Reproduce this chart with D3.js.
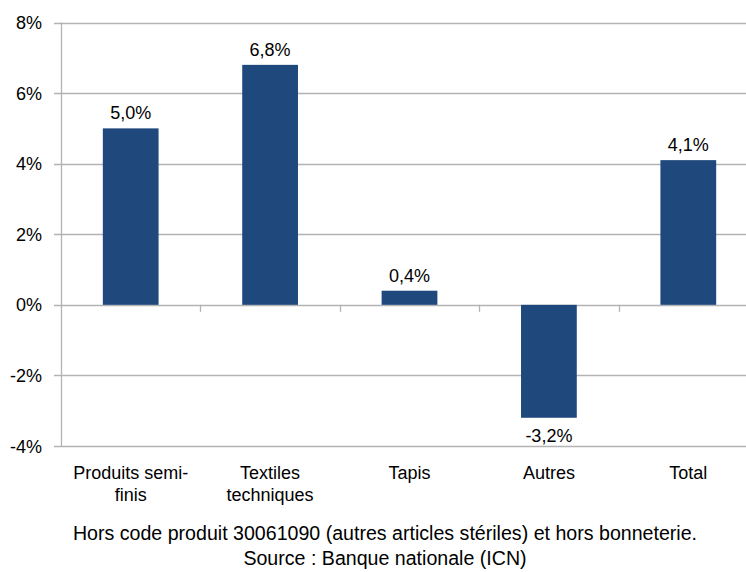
<!DOCTYPE html>
<html><head><meta charset="utf-8">
<script src="https://cdn.jsdelivr.net/npm/d3@7/dist/d3.min.js"></script>
<style>body{margin:0;background:#fff}svg{display:block}text{font-family:"Liberation Sans",Arial,sans-serif;fill:#000}</style>
</head><body><svg id="c" width="746" height="572"></svg>
<script>
const categories = [["Produits semi-","finis"],["Textiles","techniques"],["Tapis"],["Autres"],["Total"]];
const values = [5.0, 6.8, 0.4, -3.2, 4.1];
const valueLabels = ["5,0%","6,8%","0,4%","-3,2%","4,1%"];
const yTicks = [-4,-2,0,2,4,6,8];
const captions = ["Hors code produit 30061090 (autres articles stériles) et hors bonneterie.","Source : Banque nationale (ICN)"];

const svg = d3.select("#c");
const pLeft = 61, pRight = 758, pTop = 22.5, pBottom = 446;
const y = d3.scaleLinear().domain([-4, 8]).range([pBottom, pTop]);
const x = d3.scaleBand().domain(d3.range(values.length)).range([pLeft, pRight]).paddingInner(0).paddingOuter(0);
const barW = x.bandwidth() * 0.4;
const fs = 18;

// gridlines
svg.append("g").selectAll("line").data(yTicks).join("line")
  .attr("x1", pLeft - 7).attr("x2", 746)
  .attr("y1", d => Math.round(y(d)) + 0.5).attr("y2", d => Math.round(y(d)) + 0.5)
  .attr("stroke", "#b3b3b3").attr("stroke-width", 1.3);
// y axis line
svg.append("line").attr("x1", pLeft + 0.5).attr("x2", pLeft + 0.5).attr("y1", pTop).attr("y2", pBottom)
  .attr("stroke", "#b3b3b3").attr("stroke-width", 1.3);
// category ticks on zero line
svg.append("g").selectAll("line").data(d3.range(1, values.length)).join("line")
  .attr("x1", d => Math.round(x(d)) + 0.5).attr("x2", d => Math.round(x(d)) + 0.5)
  .attr("y1", y(0)).attr("y2", y(0) + 7)
  .attr("stroke", "#b3b3b3").attr("stroke-width", 1.3);

// y tick labels
svg.append("g").selectAll("text").data(yTicks).join("text")
  .attr("x", 42).attr("y", d => y(d) + 6.5).attr("text-anchor", "end")
  .attr("font-size", fs).text(d => d + "%");

// bars
svg.append("g").selectAll("rect").data(values).join("rect")
  .attr("x", (d, i) => x(i) + (x.bandwidth() - barW) / 2)
  .attr("width", barW)
  .attr("y", d => y(Math.max(0, d)))
  .attr("height", d => Math.abs(y(d) - y(0)))
  .attr("fill", "#1f497d");

// value labels
svg.append("g").selectAll("text").data(values).join("text")
  .attr("x", (d, i) => x(i) + x.bandwidth() / 2)
  .attr("y", d => d >= 0 ? y(d) - 9 : y(d) + 24)
  .attr("text-anchor", "middle").attr("font-size", fs)
  .text((d, i) => valueLabels[i]);

// category labels
const cg = svg.append("g").selectAll("text").data(categories).join("text")
  .attr("text-anchor", "middle").attr("font-size", fs);
cg.selectAll("tspan").data((d, i) => d.map(t => ({t, i}))).join("tspan")
  .attr("x", d => x(d.i) + x.bandwidth() / 2)
  .attr("y", (d, j) => 479 + j * 22)
  .text(d => d.t);

// captions
svg.append("g").selectAll("text").data(captions).join("text")
  .attr("x", 385).attr("y", (d, i) => 540 + i * 25)
  .attr("text-anchor", "middle").attr("font-size", 19.6).text(d => d);
</script></body></html>
